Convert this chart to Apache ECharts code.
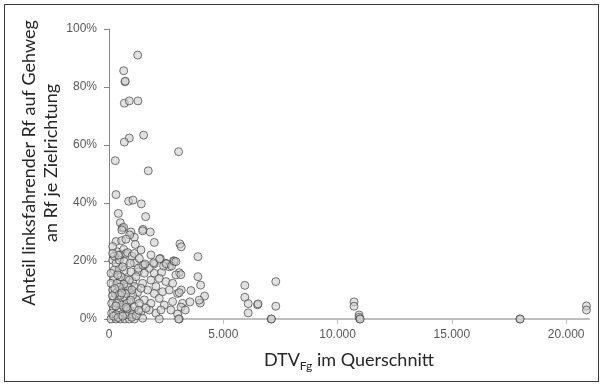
<!DOCTYPE html>
<html>
<head>
<meta charset="utf-8">
<script src="https://cdn.jsdelivr.net/npm/echarts@6/dist/echarts.min.js"></script>
<style>
html,body{margin:0;padding:0;background:#fff;}
#frame{position:absolute;left:4px;top:4px;width:595px;height:378px;border:1.5px solid #3a3a3a;box-sizing:border-box;}
#chart{position:absolute;left:0;top:0;width:606px;height:388px;}
</style>
</head>
<body>
<div id="frame"></div>
<div id="chart"></div>
<script>
// DTV_Fg (x) and share in % (y)
const xTicks = [0, 5000, 10000, 15000, 20000];
const yTicks = [0, 20, 40, 60, 80, 100];

const highShares = [
  [1254,91.0],[642,85.6],[699,81.8],[710,82.0],[670,74.4],[888,75.2],[1267,75.2],
  [1515,63.4],[888,62.4],[670,61.0],[3046,57.7],[276,54.6],[1717,51.1]
];
const midShares = [
  [306,42.9],[860,40.6],[1049,41.0],[1413,39.7],[408,36.4],[1603,35.3],[495,33.2],
  [582,31.4],[640,31.6],[560,30.7],[961,30.0],[1486,30.9],[1470,30.4],[1806,30.0],
  [1107,28.2],[905,29.0],[306,26.7],[554,27.0],[743,27.5],[1981,26.4],[1151,25.7],
  [3103,25.9],[3161,24.9]
];
const lowShares = [
  [350,23.2],[641,24.0],[495,22.1],[743,22.6],[1398,23.8],[2243,20.9],[2826,20.1],[2491,19.2],
  [160,20.3],[306,19.2],[452,20.3],[670,19.8],[1107,19.4],[1544,18.6],[1981,19.0],[2637,18.0],[3074,16.0],
  [233,16.9],[452,17.1],[670,16.7],[961,16.3],[1282,16.3],[1763,17.5],[1981,15.8],[2302,16.1],[2928,15.2],
  [233,14.0],[495,13.4],[743,13.7],[1034,12.9],[1471,12.3],[1835,13.4],[2200,14.0],[2054,11.2],[2491,12.9],[2782,12.3],
  [160,10.0],[379,9.4],[597,10.6],[889,10.0],[1107,11.2],[1253,9.1],[1690,10.0],[1981,8.8],[2345,9.4],[2637,10.0],[3001,8.8],
  [233,7.1],[452,6.6],[670,7.5],[889,6.0],[1180,6.8],[1544,6.6],[1835,5.4],[2200,7.1],[2418,4.8],[2782,6.0],[3219,5.4],
  [204,3.7],[452,3.1],[670,3.7],[932,2.9],[1107,4.2],[1398,2.5],[1763,3.1],[2054,2.0],[2272,3.1],[2709,3.1],[3001,1.7],
  [87,0],[306,0],[495,0],[699,0],[889,0],[1107,0],[2200,0],[3074,0],
  [233,21.7],[408,22.0],[816,22.9],[1005,21.7],[1282,17.5],[1486,18.5],[1573,19.0],[1952,19.4],
  [2214,20.7],[2389,18.3],[2505,19.0],[2739,18.3],[2855,19.9],
  [87,12.3],[87,15.8],[116,5.4],[116,2.0],[350,12.3],[524,14.6],[816,11.2],[350,5.4],[554,4.8],
  [787,5.4],[554,1.5],[787,1.5],[1034,1.5],[306,1.5],[1034,8.2],[743,8.8],[495,8.2],[262,8.8],
  [889,13.4],[1180,14.6],[1544,15.8],[1398,10.6],[1617,3.7],[1471,0.3],[1326,5.4],[932,19.2],
  [1107,22.6],[160,25.0],[160,22.6],[379,15.2],[597,18.0],[1835,22.1],[1326,20.9],
  [200,1.0],[400,0.5],[600,1.0],[800,3.5],[1000,0.6],[300,4.5],[150,8.0],[650,12.0],
  [450,11.0],[550,9.0],[750,4.0],[950,6.5],[1200,1.2],[1300,3.0],[250,10.5],[1000,10.0]
];
const highTraffic = [
  [2930,19.8],[3146,15.3],[3890,21.5],[3890,14.6],[4007,11.7],[3584,9.8],[3161,10.0],[3073,9.1],
  [4181,7.9],[3540,5.9],[3993,5.5],[3150,4.1],[3336,3.1],[3046,0],[3946,6.5],
  [5943,11.6],[5943,7.5],[6090,5.3],[6090,2.1],[6498,4.9],[6520,5.2],[7093,0],[7110,0],
  [7298,12.9],[7298,4.4],[10720,5.9],[10720,4.4],[10940,1.4],[10940,0.6],[10970,0],[10990,0],
  [17975,0],[17990,0],[20890,4.5],[20890,3.1]
];

const allPoints = highShares.concat(midShares, lowShares, highTraffic);

const chart = echarts.init(document.getElementById('chart'), null, {renderer: 'canvas'});
const nameFont = 'Lato, "Open Sans", sans-serif';
chart.setOption({
  animation: false,
  backgroundColor: 'transparent',
  grid: {left: 109, right: 17, top: 29, bottom: 69},
  xAxis: {
    type: 'value', min: 0, max: 21000, interval: 5000,
    name: '{a|DTV}{b|Fg}{a| im Querschnitt}',
    nameLocation: 'middle', nameGap: 29,
    nameTextStyle: {
      rich: {
        a: {fontFamily: nameFont, fontSize: 18, color: '#262626', lineHeight: 24, verticalAlign: 'middle'},
        b: {fontFamily: nameFont, fontSize: 12, color: '#262626', lineHeight: 12, verticalAlign: 'bottom'}
      }
    },
    splitLine: {show: false},
    axisLine: {show: true, onZero: false, lineStyle: {color: '#bfbfbf', width: 2}},
    axisTick: {show: true, length: 5, lineStyle: {color: '#bfbfbf'}, customValues: xTicks},
    axisLabel: {
      color: '#595959', fontSize: 12, fontFamily: '"Liberation Sans", Arial, sans-serif', margin: 10,
      customValues: xTicks,
      formatter: v => v === 0 ? '0' : String(v).replace(/\B(?=(\d{3})+(?!\d))/g, '.')
    }
  },
  yAxis: {
    type: 'value', min: 0, max: 100, interval: 20,
    name: 'Anteil linksfahrender Rf auf Gehweg\nan Rf je Zielrichtung',
    nameLocation: 'middle', nameGap: 47, nameMoveOverlap: false,
    nameTextStyle: {fontFamily: nameFont, fontSize: 18, color: '#262626', lineHeight: 22, padding: [0, 0, 0, 22]},
    splitLine: {show: false},
    axisLine: {show: true, lineStyle: {color: '#868686', width: 1}},
    axisTick: {show: true, length: 5, lineStyle: {color: '#868686'}},
    axisLabel: {
      color: '#595959', fontSize: 12, fontFamily: '"Liberation Sans", Arial, sans-serif', margin: 12,
      formatter: v => v + '%'
    }
  },
  series: [{
    type: 'scatter',
    data: allPoints,
    symbol: 'circle',
    symbolSize: 8,
    itemStyle: {color: 'rgba(205,205,205,0.75)', borderColor: 'rgba(60,60,60,0.85)', borderWidth: 1},
    z: 3
  }]
});
</script>
</body>
</html>
